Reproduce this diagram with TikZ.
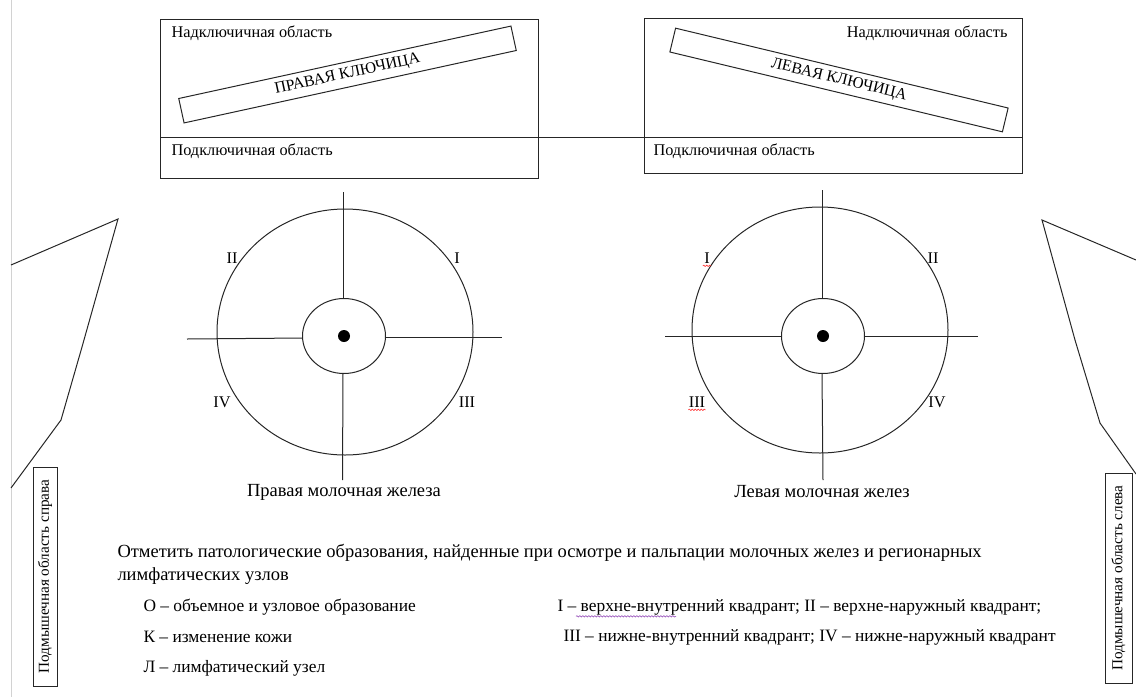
\documentclass[tikz,border=0pt]{standalone}
\usepackage{fontspec}
\setmainfont{Liberation Serif}
\usetikzlibrary{calc, positioning}
\usetikzlibrary{decorations.pathmorphing}

\tikzset{
  lbl/.style={font=\fontsize{16.3}{19}\selectfont, inner sep=0pt},
  key/.style={font=\fontsize{17.4}{20}\selectfont, inner sep=0pt},
  big/.style={font=\fontsize{18.5}{21}\selectfont, inner sep=0pt},
  bone/.style={draw, inner sep=0pt, font=\fontsize{16}{18}\selectfont},
  sidebox/.style={draw, rotate=90, inner sep=0pt, font=\fontsize{15.2}{17}\selectfont},
  squiggle/.style={decorate, decoration={snake, amplitude=0.7pt, segment length=3pt}, line width=0.6pt},
}

\begin{document}
\begin{tikzpicture}[x=1pt, y=-1pt, line width=1pt, draw=black!85]
\useasboundingbox (0,0) rectangle (1136,697);

\def\rcx{345}
\def\rcy{332}
\def\lcx{820}
\def\lcy{330}
\def\orx{128}
\def\ory{123}
\def\irx{41.5}
\def\iry{37.5}

% page edge
\draw[gray!35, line width=0.8pt] (11,0) -- (11,697);

% clavicle boxes
\coordinate (RboxNW) at (160,19);
\coordinate (RboxSE) at (538,178);
\coordinate (LboxNW) at (644,18);
\coordinate (LboxSE) at (1022,173);
\draw (RboxNW) rectangle (RboxSE);
\draw (LboxNW) rectangle (LboxSE);
\coordinate (divW) at (160,137.5);
\coordinate (divE) at (1022,137.5);
\draw (divW) -- (divE);

\node[lbl, anchor=west] (rsupra) at (171,33) {Надключичная область};
\node[lbl, anchor=west] (rsub) at (171,151) {Подключичная область};
\node[lbl, anchor=east] (lsupra) at (1008,33) {Надключичная область};
\node[lbl, anchor=west] (lsub) at (653,151) {Подключичная область};

\node[bone, minimum width=340, minimum height=25, rotate=12.3] (rclav) at (347.5,74.5) {ПРАВАЯ КЛЮЧИЦА};
\node[bone, minimum width=342, minimum height=24.5, rotate=-13.5] (lclav) at (839,80) {ЛЕВАЯ КЛЮЧИЦА};

% right breast
\coordinate (rbreast) at (\rcx,\rcy);
\coordinate (rnip) at (344,336);
\draw (rbreast) ellipse [x radius=\orx, y radius=\ory];
\draw (rnip) ellipse [x radius=\irx, y radius=\iry];
\fill (rnip) circle (6);
\draw (187,339) -- (302.5,338);
\draw (385.5,337) -- (502,337);
\draw (343,192) -- (343,298.5);
\draw (343,373.5) -- (342.5,480);
\node[lbl] (rq2) at (232,258) {II};
\node[lbl] (rq1) at (457,258) {I};
\node[lbl] (rq4) at (222,402) {IV};
\node[lbl] (rq3) at (467,402) {III};
\node[big] (rcap) at (344,492) {Правая молочная железа};

% left breast
\coordinate (lbreast) at (\lcx,\lcy);
\coordinate (lnip) at (823,336);
\draw (lbreast) ellipse [x radius=\orx, y radius=\ory];
\draw (lnip) ellipse [x radius=\irx, y radius=\iry];
\fill (lnip) circle (6);
\draw (665,336) -- (781.5,336);
\draw (864.5,336) -- (978,336);
\draw (822,190) -- (822,298.5);
\draw (822,373.5) -- (823,480);
\node[lbl] (lq1) at (707,258) {I};
\node[lbl] (lq2) at (933,258) {II};
\node[lbl] (lq3) at (697,402) {III};
\node[lbl] (lq4) at (937,402) {IV};
\draw[squiggle, red!80] ($(lq1.south west)+(-1,2)$) -- ($(lq1.south east)+(1,2)$);
\draw[squiggle, red!80] ($(lq3.south west)+(0,2)$) -- ($(lq3.south east)+(0,2)$);
\node[big] (lcap) at (822,492) {Левая молочная желез};

% armpits
\draw (11,265) -- (118,219) -- (82,347) -- (61,420) -- (11,488);
\draw (1136,260) -- (1042,220) -- (1075,340) -- (1100,423) -- (1136,474);
\node[sidebox, minimum width=219, minimum height=24] (raxil) at (45,576.5) {Подмышечная область справа};
\node[sidebox, minimum width=210, minimum height=27] (laxil) at (1118.5,578) {Подмышечная область слева};

% legend
\node[big, anchor=west] (note1) at (117,553) {Отметить патологические образования, найденные при осмотре и пальпации молочных желез и регионарных};
\node[big, anchor=west] (note2) at (117,576) {лимфатических узлов};
\node[key, anchor=west] (keyO) at (143,607) {О – объемное и узловое образование};
\node[key, anchor=west] (keyK) at (143,637) {К – изменение кожи};
\node[key, anchor=west] (keyL) at (143,668) {Л – лимфатический узел};
\node[key, anchor=west] (quadA) at (557,607) {I – верхне-внутренний квадрант; II – верхне-наружный квадрант;};
\node[key, anchor=west] (quadB) at (563,637) {III – нижне-внутренний квадрант; IV – нижне-наружный квадрант};
\draw[squiggle, blue!60!red!70] ($(quadA.south west)+(19,1)$) -- ++(100,0);
\end{tikzpicture}
\end{document}
